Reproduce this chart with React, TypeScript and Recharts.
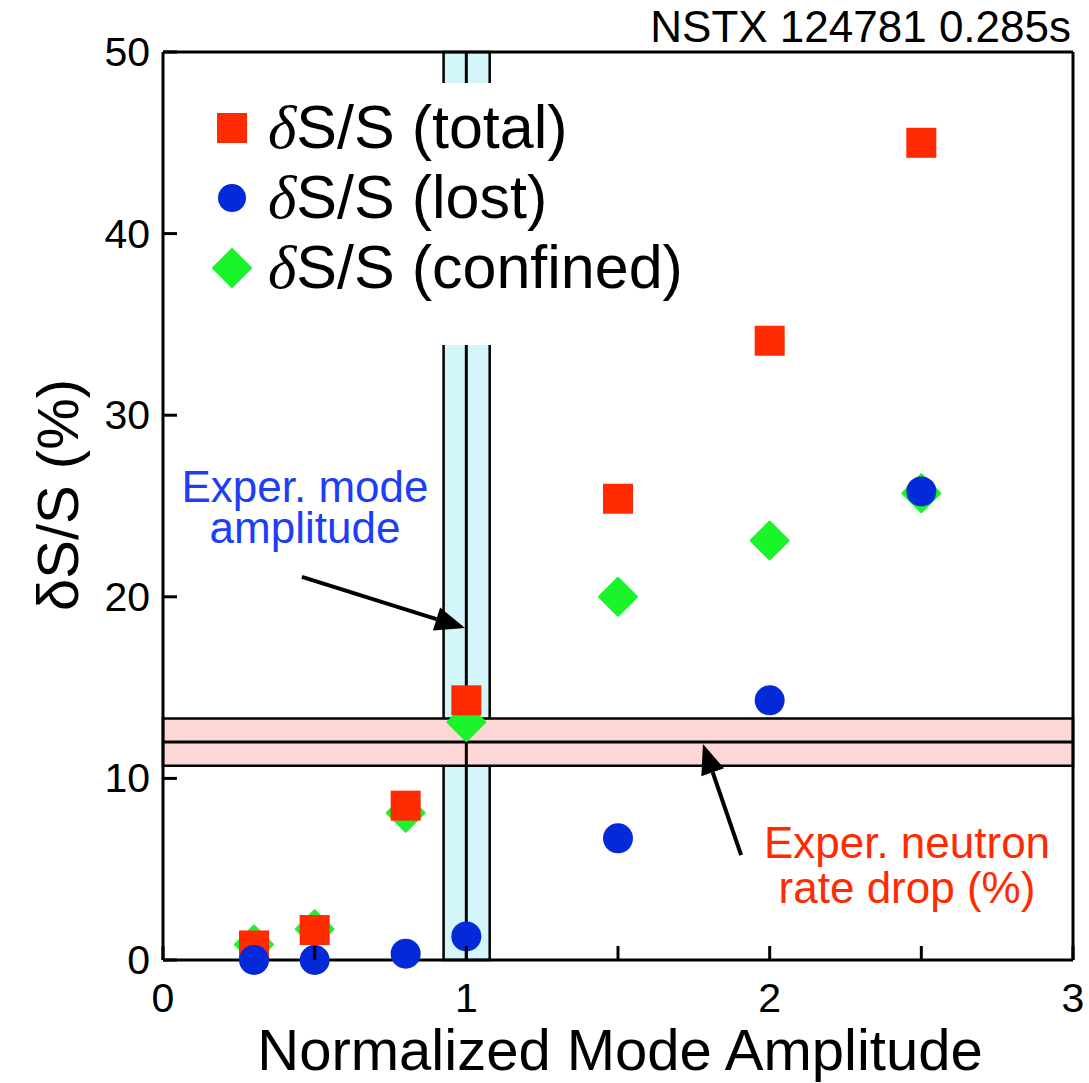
import React from 'react';
import {
  ScatterChart,
  Scatter,
  XAxis,
  YAxis,
  ReferenceArea,
  ReferenceLine,
  Legend,
} from 'recharts';

// mode amplitudes used in the scan
const amplitudes = [0.3, 0.5, 0.8, 1.0, 1.5, 2.0, 2.5];
// dS/S in percent
const totalLoss = [0.8, 1.65, 8.5, 14.3, 25.4, 34.1, 45.0];
const lostLoss = [0, 0, 0.35, 1.3, 6.7, 14.3, 25.8];
const confinedLoss = [0.85, 1.7, 8.1, 13.1, 20.0, 23.1, 25.7];

const xTicks = [0, 0.5, 1, 1.5, 2, 2.5, 3];
const yTicks = [0, 10, 20, 30, 40, 50];

// experimental reference values
const modeBand = [0.925, 1.077];
const modeValue = 1.0;
const neutronBand = [10.7, 13.3];
const neutronDrop = 12.0;

const RED = '#ff2a00';
const BLUE = '#0429d8';
const GREEN = '#19f52a';
const FONT = '"Liberation Sans", Arial, Helvetica, sans-serif';

const toPoints = (ys: number[]) => amplitudes.map((x, i) => ({ x, y: ys[i] }));

const Square = (p: any) => (
  <rect x={p.cx - 15} y={p.cy - 15} width={30} height={30} fill={RED} />
);
const Dot = (p: any) => <circle cx={p.cx} cy={p.cy} r={15} fill={BLUE} />;
const Diamond = (p: any) => (
  <polygon
    points={`${p.cx},${p.cy - 19} ${p.cx + 19},${p.cy} ${p.cx},${p.cy + 19} ${p.cx - 19},${p.cy}`}
    fill={GREEN}
    strokeLinejoin="round"
    stroke={GREEN}
    strokeWidth={2}
  />
);

const BottomTick = (p: any) => {
  const v = p.payload.value;
  return (
    <g>
      <line x1={p.x} y1={p.y} x2={p.x} y2={p.y - 14} stroke="#000" strokeWidth={3} />
      {Number.isInteger(v) && (
        <text x={p.x} y={p.y + 52} textAnchor="middle" fontSize={41} fontFamily={FONT} fill="#000">
          {v}
        </text>
      )}
    </g>
  );
};
const TopTick = (p: any) => (
  <line x1={p.x} y1={p.y} x2={p.x} y2={p.y + 14} stroke="#000" strokeWidth={3} />
);
const LeftTick = (p: any) => (
  <g>
    <line x1={p.x} y1={p.y} x2={p.x + 14} y2={p.y} stroke="#000" strokeWidth={3} />
    <text x={p.x - 13} y={p.y + 14} textAnchor="end" fontSize={41} fontFamily={FONT} fill="#000">
      {p.payload.value}
    </text>
  </g>
);
const RightTick = (p: any) => (
  <line x1={p.x} y1={p.y} x2={p.x - 14} y2={p.y} stroke="#000" strokeWidth={3} />
);

const Arrow = (p: any) => {
  const { x1, y1, x2, y2 } = p;
  const dx = x2 - x1;
  const dy = y2 - y1;
  const len = Math.sqrt(dx * dx + dy * dy);
  const ux = dx / len;
  const uy = dy / len;
  const hl = 30;
  const hw = 12;
  const bx = x2 - ux * hl;
  const by = y2 - uy * hl;
  return (
    <g>
      <line x1={x1} y1={y1} x2={bx} y2={by} stroke="#000" strokeWidth={4} />
      <polygon
        points={`${x2},${y2} ${bx - uy * hw},${by + ux * hw} ${bx + uy * hw},${by - ux * hw}`}
        fill="#000"
      />
    </g>
  );
};

const legendRows = [
  { name: '(total)', icon: 'square' },
  { name: '(lost)', icon: 'circle' },
  { name: '(confined)', icon: 'diamond' },
];

const LegendBox = () => (
  <div style={{ position: 'relative', width: 510, height: 262, background: '#fff' }}>
    {legendRows.map((r, i) => {
      const c = 45 + i * 70;
      return (
        <div key={r.name}>
          <svg
            width={40}
            height={40}
            style={{ position: 'absolute', left: 22, top: c - 20 }}
          >
            {r.icon === 'square' && <Square cx={20} cy={20} />}
            {r.icon === 'circle' && <circle cx={20} cy={20} r={14} fill={BLUE} />}
            {r.icon === 'diamond' && <Diamond cx={20} cy={20} />}
          </svg>
          <div
            style={{
              position: 'absolute',
              left: 78,
              top: c - 37,
              fontSize: 61,
              lineHeight: '72px',
              fontFamily: FONT,
              whiteSpace: 'nowrap',
              color: '#000',
            }}
          >
            <span style={{ fontFamily: '"Liberation Serif", serif', fontStyle: 'italic' }}>δ</span>
            S/S {r.name}
          </div>
        </div>
      );
    })}
  </div>
);

export default function App() {
  return (
    <div style={{ position: 'absolute', left: 0, top: 0, width: 1089, height: 1083, background: '#fff' }}>
      <ScatterChart width={1089} height={1083} margin={{ top: 0, right: 0, bottom: 0, left: 0 }}>
        <XAxis
          dataKey="x"
          type="number"
          domain={[0, 3]}
          ticks={xTicks}
          interval={0}
          height={123}
          tickSize={0}
          tickMargin={0}
          tick={<BottomTick />}
          axisLine={{ stroke: '#000', strokeWidth: 3 }}
          tickLine={false}
        />
        <XAxis
          xAxisId="top"
          orientation="top"
          dataKey="x"
          type="number"
          domain={[0, 3]}
          ticks={xTicks}
          interval={0}
          height={52}
          tickSize={0}
          tickMargin={0}
          tick={<TopTick />}
          axisLine={{ stroke: '#000', strokeWidth: 3 }}
          tickLine={false}
        />
        <YAxis
          dataKey="y"
          type="number"
          domain={[0, 50]}
          ticks={yTicks}
          interval={0}
          width={163}
          tickSize={0}
          tickMargin={0}
          tick={<LeftTick />}
          axisLine={{ stroke: '#000', strokeWidth: 3 }}
          tickLine={false}
        />
        <YAxis
          yAxisId="right"
          orientation="right"
          dataKey="y"
          type="number"
          domain={[0, 50]}
          ticks={yTicks}
          interval={0}
          width={16}
          tickSize={0}
          tickMargin={0}
          tick={<RightTick />}
          axisLine={{ stroke: '#000', strokeWidth: 3 }}
          tickLine={false}
        />
        <ReferenceArea
          x1={modeBand[0]}
          x2={modeBand[1]}
          y1={0}
          y2={50}
          fill="#d2f6fa"
          fillOpacity={1}
          stroke="#000"
          strokeWidth={2.5}
        />
        <ReferenceLine x={modeValue} stroke="#000" strokeWidth={3} />
        <ReferenceArea
          x1={0}
          x2={3}
          y1={neutronBand[0]}
          y2={neutronBand[1]}
          fill="#fdd6d6"
          fillOpacity={1}
          stroke="#000"
          strokeWidth={2.5}
        />
        <ReferenceLine y={neutronDrop} stroke="#000" strokeWidth={3} />
        <ReferenceLine
          segment={[
            { x: 0.458, y: 21.1 },
            { x: 0.996, y: 18.28 },
          ]}
          shape={<Arrow />}
        />
        <ReferenceLine
          segment={[
            { x: 1.906, y: 5.78 },
            { x: 1.78, y: 11.9 },
          ]}
          shape={<Arrow />}
        />
        <Scatter name="confined" data={toPoints(confinedLoss)} shape={<Diamond />} isAnimationActive={false} />
        <Scatter name="total" data={toPoints(totalLoss)} shape={<Square />} isAnimationActive={false} />
        <Scatter name="lost" data={toPoints(lostLoss)} shape={<Dot />} isAnimationActive={false} />
        <Legend
          layout="vertical"
          align="center"
          verticalAlign="middle"
          content={<LegendBox />}
          wrapperStyle={{ left: 190, top: 83, width: 510, height: 262 }}
        />
      </ScatterChart>
      <svg
        width={1089}
        height={1083}
        style={{ position: 'absolute', left: 0, top: 0, pointerEvents: 'none' }}
        fontFamily={FONT}
      >
        <text x={1071} y={42} textAnchor="end" fontSize={44} fill="#000">
          NSTX 124781 0.285s
        </text>
        <text x={620} y={1070} textAnchor="middle" fontSize={58} fill="#000">
          Normalized Mode Amplitude
        </text>
        <text
          x={0}
          y={0}
          transform="translate(78 495) rotate(-90)"
          textAnchor="middle"
          fontSize={58}
          fill="#000"
        >
          δS/S (%)
        </text>
        <text textAnchor="middle" fontSize={44} fill="#1c3ef6">
          <tspan x={305} y={502}>Exper. mode</tspan>
          <tspan x={305} y={543}>amplitude</tspan>
        </text>
        <text textAnchor="middle" fontSize={44} fill={RED}>
          <tspan x={907} y={858}>Exper. neutron</tspan>
          <tspan x={907} y={903}>rate drop (%)</tspan>
        </text>
      </svg>
    </div>
  );
}
